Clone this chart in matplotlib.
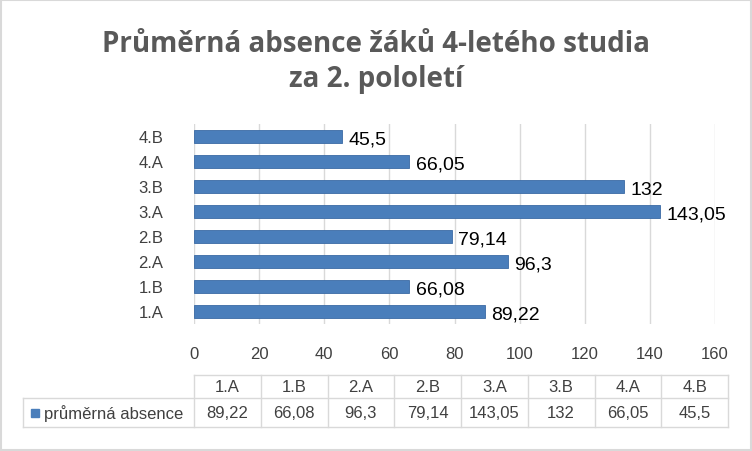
import matplotlib.pyplot as plt
from matplotlib.patches import Rectangle
from matplotlib.lines import Line2D

categories = ["1.A", "1.B", "2.A", "2.B", "3.A", "3.B", "4.A", "4.B"]
values = [89.22, 66.08, 96.3, 79.14, 143.05, 132, 66.05, 45.5]
value_labels = ["89,22", "66,08", "96,3", "79,14", "143,05", "132", "66,05", "45,5"]
series_name = "průměrná absence"
title = "Průměrná absence žáků 4-letého studia\nza 2. pololetí"

W, H = 752, 452
BLUE = "#4a7ebb"
FONT = "Liberation Sans"
plt.rcParams["font.family"] = FONT

fig = plt.figure(figsize=(W / 100, H / 100), dpi=100)


def fx(px):
    return px / W


def fy(py):
    return 1 - py / H


fig.add_artist(Rectangle((fx(1), fy(451)), fx(750), 450 / H, fill=False,
                         edgecolor="#d9d9d9", lw=1.5, transform=fig.transFigure))

fig.text(0.5, fy(62), title, ha="center", va="center", fontsize=20,
         fontweight="bold", color="#595959", fontfamily="Open Sans", linespacing=1.3)

# plot area: x 194..715, y 125..325
ax = fig.add_axes([fx(194), fy(325), fx(715 - 194), (325 - 125) / H])
y = list(range(len(categories)))
bars = ax.barh(y, values, height=0.55, color=BLUE, edgecolor="#3a6aa5", lw=0.6)
for yi, v, lab in zip(y, values, value_labels):
    ax.text(v + 2, yi - 0.12, lab, va="center", ha="left", fontsize=14, color="black")
ax.set_xlim(0, 160)
ax.set_ylim(-0.5, len(categories) - 0.5)
ax.set_xticks(range(0, 161, 20))
ax.set_yticks(y)
ax.set_yticklabels(categories)
ax.tick_params(axis="both", length=0, labelsize=12, labelcolor="#404040")
ax.tick_params(axis="x", pad=16)
ax.tick_params(axis="y", pad=22)
ax.grid(axis="x", color="#d9d9d9", lw=1)
ax.set_axisbelow(True)
for s in ax.spines.values():
    s.set_visible(False)

# data table
col_left = 194
col_w = (728 - 194) / len(categories)
top, mid, bot = 376, 399, 428
lc = "#d9d9d9"
def hline(py, x0, x1):
    fig.add_artist(Line2D([fx(x0), fx(x1)], [fy(py), fy(py)], color=lc, lw=1, transform=fig.transFigure))
def vline(px, y0, y1):
    fig.add_artist(Line2D([fx(px), fx(px)], [fy(y0), fy(y1)], color=lc, lw=1, transform=fig.transFigure))

hline(top, col_left, 728)
hline(mid, 23, 728)
hline(bot, 23, 728)
vline(23, mid, bot)
for i in range(len(categories) + 1):
    vline(col_left + i * col_w, top, bot)
for i, (c, lab) in enumerate(zip(categories, value_labels)):
    cx = col_left + (i + 0.5) * col_w
    fig.text(fx(cx), fy((top + mid) / 2), c, ha="center", va="center", fontsize=12, color="#404040")
    fig.text(fx(cx), fy((mid + bot) / 2), lab, ha="center", va="center", fontsize=12, color="#404040")
fig.add_artist(Rectangle((fx(31), fy(418)), fx(8), 8 / H, color=BLUE, transform=fig.transFigure))
fig.text(fx(44), fy((mid + bot) / 2), series_name, ha="left", va="center", fontsize=12, color="#404040")

fig.savefig("out.png", dpi=100)
